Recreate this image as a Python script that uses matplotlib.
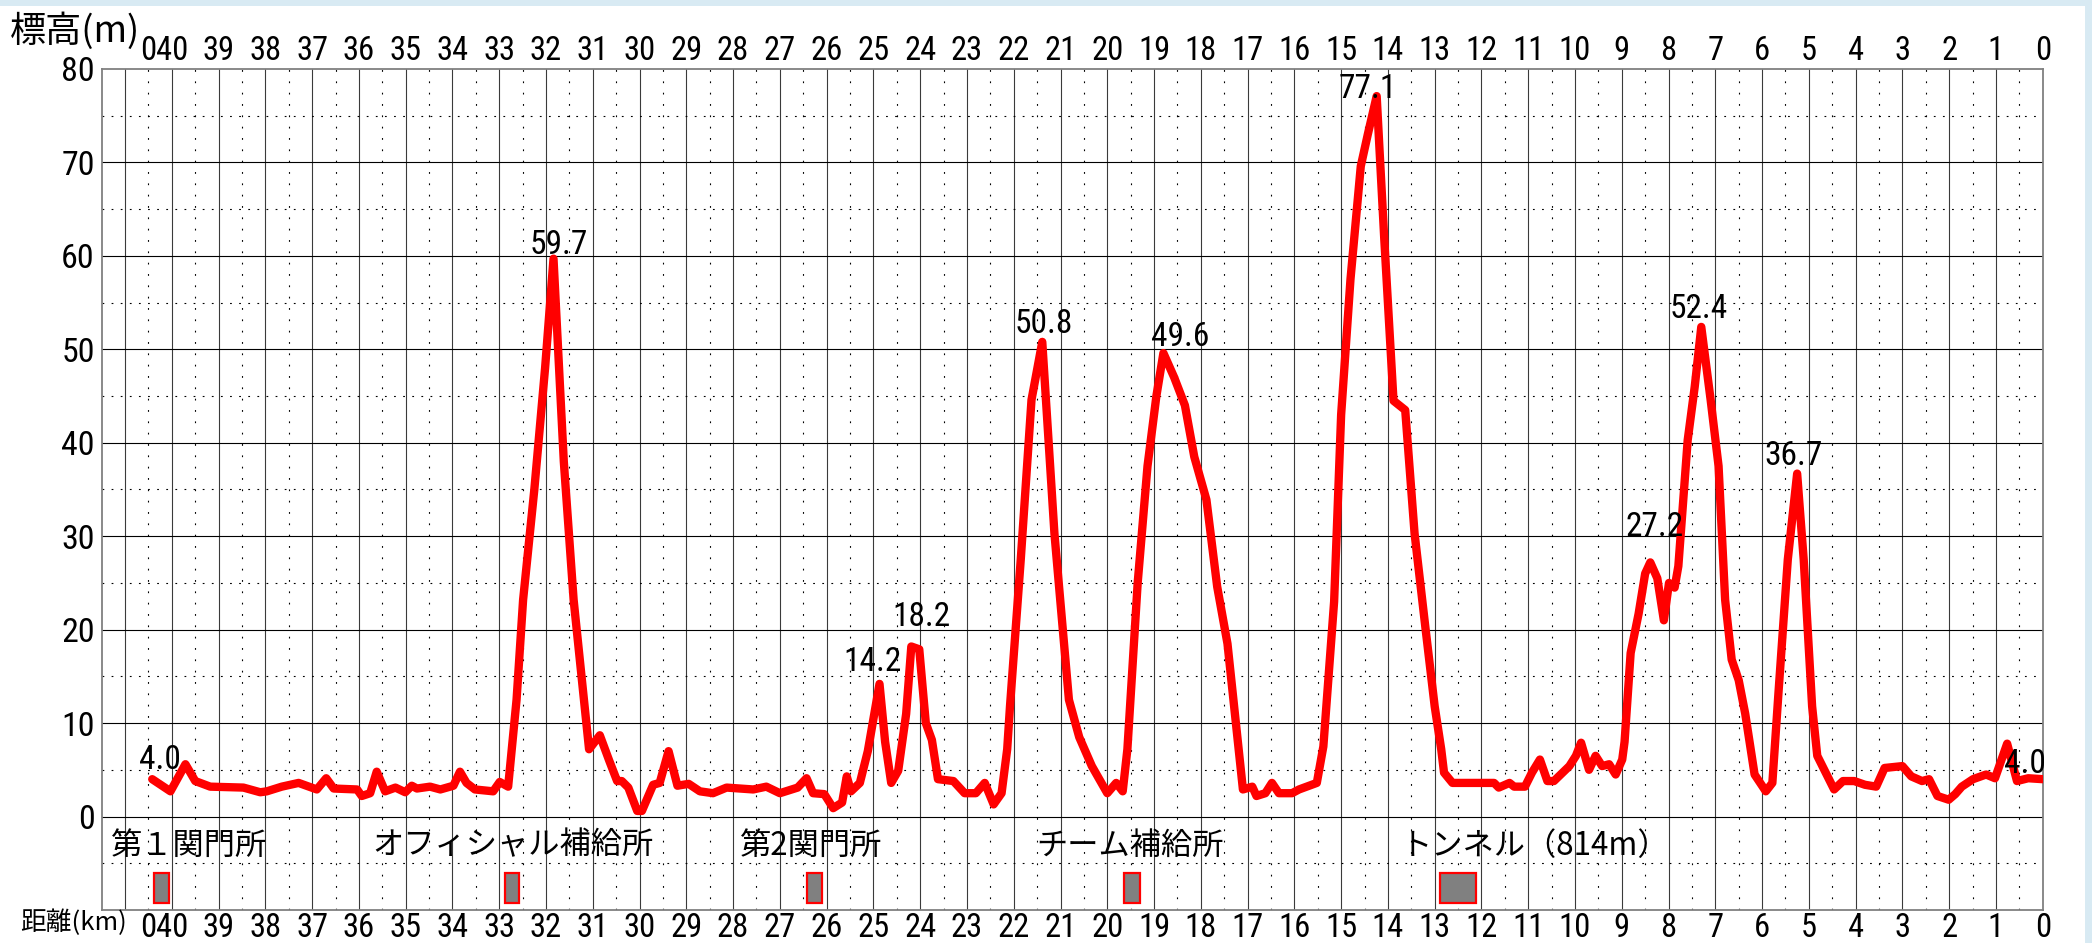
import matplotlib
matplotlib.use("Agg")
import matplotlib.pyplot as plt
from matplotlib.patches import Rectangle
from matplotlib import font_manager as fm

# ---------------- data ----------------
dist_km = [40.42, 40.03, 39.71, 39.50, 39.18, 38.47, 38.11, 37.97, 37.65, 37.29,
           36.90, 36.70, 36.54, 36.04, 35.94, 35.76, 35.62, 35.44, 35.22, 35.01,
           34.87, 34.76, 34.48, 34.26, 33.98, 33.84, 33.70, 33.52, 33.13, 32.99,
           32.81, 32.63, 32.49, 32.25, 32.02, 31.84, 31.62, 31.41, 31.08, 30.85,
           30.65, 30.48, 30.38, 30.24, 30.05, 29.95, 29.71, 29.57, 29.38, 29.19,
           28.95, 28.71, 28.43, 28.14, 27.57, 27.29, 27.00, 26.62, 26.43, 26.29,
           26.05, 25.86, 25.67, 25.57, 25.48, 25.29, 25.12, 24.98, 24.87, 24.75,
           24.62, 24.47, 24.30, 24.19, 24.02, 23.88, 23.75, 23.62, 23.29, 23.05,
           22.81, 22.62, 22.43, 22.26, 22.14, 22.08, 21.85, 21.62, 21.39, 21.13,
           20.82, 20.60, 20.33, 20.00, 19.81, 19.67, 19.57, 19.35, 19.14, 18.95,
           18.80, 18.57, 18.34, 18.14, 17.88, 17.65, 17.43, 17.19, 17.10, 16.90,
           16.81, 16.62, 16.48, 16.33, 16.05, 15.90, 15.52, 15.38, 15.15, 15.00,
           14.80, 14.58, 14.43, 14.24, 14.08, 13.88, 13.63, 13.43, 13.20, 13.00,
           12.86, 12.80, 12.62, 11.73, 11.63, 11.40, 11.30, 11.07, 10.92, 10.75,
           10.59, 10.45, 10.12, 9.98, 9.87, 9.70, 9.56, 9.42, 9.27, 9.13,
           8.99, 8.94, 8.81, 8.64, 8.50, 8.39, 8.24, 8.10, 7.99, 7.87,
           7.79, 7.59, 7.44, 7.30, 7.10, 6.93, 6.79, 6.65, 6.50, 6.36,
           6.16, 5.92, 5.78, 5.65, 5.45, 5.25, 5.11, 4.93, 4.82, 4.46,
           4.27, 4.03, 3.80, 3.56, 3.38, 3.00, 2.81, 2.58, 2.43, 2.25,
           2.01, 1.87, 1.73, 1.49, 1.21, 1.02, 0.76, 0.55, 0.31, 0.00]
elev_m = [4.0, 2.7, 5.6, 3.8, 3.2, 3.1, 2.6, 2.7, 3.2, 3.6,
          2.9, 4.1, 3.0, 2.9, 2.2, 2.5, 4.8, 2.7, 3.1, 2.6,
          3.3, 3.0, 3.2, 2.9, 3.3, 4.8, 3.6, 2.9, 2.7, 3.7,
          3.2, 12.5, 23.2, 35.0, 48.0, 59.7, 38.0, 23.2, 7.2, 8.7,
          6.0, 3.8, 3.8, 3.1, 0.6, 0.6, 3.4, 3.6, 7.0, 3.3,
          3.5, 2.7, 2.5, 3.1, 2.9, 3.2, 2.5, 3.1, 4.1, 2.5,
          2.4, 0.9, 1.5, 4.3, 2.7, 3.6, 7.0, 11.0, 14.2, 8.0,
          3.6, 4.9, 11.0, 18.2, 17.9, 10.0, 8.2, 4.0, 3.8, 2.5,
          2.5, 3.6, 1.3, 2.5, 7.2, 11.8, 27.5, 44.6, 50.8, 30.3,
          12.5, 8.5, 5.4, 2.5, 3.6, 2.7, 7.2, 25.0, 37.5, 45.0,
          49.6, 47.0, 44.0, 38.5, 33.9, 24.6, 18.5, 7.2, 2.9, 3.2,
          2.2, 2.5, 3.6, 2.5, 2.5, 2.9, 3.6, 7.5, 23.0, 43.0,
          57.5, 69.6, 73.0, 77.1, 62.0, 44.5, 43.5, 30.3, 20.3, 11.8,
          7.2, 4.7, 3.6, 3.6, 3.1, 3.6, 3.2, 3.2, 4.7, 6.1,
          3.8, 3.8, 5.4, 6.5, 7.9, 5.0, 6.5, 5.4, 5.6, 4.5,
          6.1, 8.0, 17.5, 21.7, 26.0, 27.2, 25.5, 21.0, 25.0, 24.5,
          26.8, 40.3, 46.0, 52.4, 44.6, 37.5, 23.2, 16.8, 14.6, 11.0,
          4.5, 2.7, 3.6, 13.2, 27.5, 36.7, 27.5, 11.8, 6.5, 2.9,
          3.8, 3.8, 3.4, 3.2, 5.2, 5.4, 4.3, 3.8, 4.0, 2.2,
          1.8, 2.4, 3.2, 4.0, 4.5, 4.1, 7.8, 3.8, 4.1, 4.0]

# annotated elevations
label_km = [40.42, 31.84, 24.87, 24.19, 21.39, 18.80, 14.24, 8.39, 7.30, 5.25, 0.00]
label_val = [4.0, 59.7, 14.2, 18.2, 50.8, 49.6, 77.1, 27.2, 52.4, 36.7, 4.0]

# facilities
facility_names = ["第１関門所", "オフィシャル補給所", "第2関門所", "チーム補給所", "トンネル（814m）"]
facility_label_km = [41.31, 35.71, 27.86, 21.52, 13.72]
facility_start_km = [40.38, 32.88, 26.41, 19.65, 12.88]
facility_end_km = [40.06, 32.57, 26.10, 19.31, 12.12]

# axis tick labels
xtick_pos = [40.5] + list(range(40, -1, -1))
xtick_lab = ["0"] + [str(k) for k in range(40, -1, -1)]
ytick_pos = list(range(0, 81, 10))

# ---------------- styling ----------------
label_dx = [8, 5, -7, 10, 1, 17, -9, 4, -3, -4, -18]
label_dy = [10, 5, 13, 20, 9, 7, -2, 26, 9, 9, 6]

names = {f.name for f in fm.fontManager.ttflist}
num_font = "Liberation Sans"
for cand in ["Liberation Sans Narrow", "DejaVu Sans Condensed", "Roboto Condensed",
             "Open Sans Condensed", "Liberation Sans"]:
    if cand in names:
        num_font = cand
        break
jp_font = ["Noto Sans CJK JP", "DejaVu Sans"]
plt.rcParams["font.family"] = jp_font

W, H = 2092, 943
fig = plt.figure(figsize=(W / 100, H / 100), dpi=100)
fig.patch.set_facecolor("white")
L, R, T, B = 101.7, 2042.7, 69, 910
ax = fig.add_axes([L / W, 1 - B / H, (R - L) / W, (B - T) / H])
ax.set_xlim(41.5, 0)
ax.set_ylim(-10, 80)

# background bands
blue = "#d8eaf3"
fig.patches.append(Rectangle((0, 1 - 6 / H), 1, 6 / H, transform=fig.transFigure,
                             facecolor=blue, edgecolor="none", zorder=0))
fig.patches.append(Rectangle((2085 / W, 0), 7 / W, 1, transform=fig.transFigure,
                             facecolor=blue, edgecolor="none", zorder=0))

# grid
for k in range(1, 42):
    ax.axvline(k, color="#3a3a3a", lw=0.8, zorder=1)
for k in range(0, 41):
    ax.axvline(k + 0.5, color="black", lw=0.8, dashes=(1.6, 8.6), zorder=1)
for v in range(0, 80, 10):
    ax.axhline(v, color="black", lw=0.8, zorder=1)
for v in [-5] + list(range(5, 80, 10)):
    ax.axhline(v, color="black", lw=0.8, dashes=(1.6, 6.6), zorder=1)

for s in ax.spines.values():
    s.set_color("#808080")
    s.set_linewidth(1.3)

# profile
ax.plot(dist_km, elev_m, color="#ff0000", lw=6.0, solid_joinstyle="round",
        solid_capstyle="round", zorder=5)

# labels of elevations
for km, v, dx, dy in zip(label_km, label_val, label_dx, label_dy):
    ax.annotate(f"{v:.1f}", xy=(km, v), xytext=(dx, dy), textcoords="offset pixels",
                ha="center", va="baseline", fontsize=24, family=num_font,
                color="black", zorder=6, annotation_clip=False)

# facilities
for name, lk, s0, s1 in zip(facility_names, facility_label_km, facility_start_km, facility_end_km):
    ax.text(lk, -3.1, name, ha="left", va="center", fontsize=22.5, family=jp_font, zorder=6)
    ax.add_patch(Rectangle((s1, -9.3), s0 - s1, 3.3, facecolor="#808080",
                           edgecolor="#ff0000", lw=1.6, zorder=6))

# ticks
ax.set_xticks(xtick_pos)
ax.set_xticklabels(xtick_lab)
ax.set_yticks(ytick_pos)
ax.set_yticklabels([str(v) for v in ytick_pos])
ax.tick_params(axis="x", top=True, bottom=True, labeltop=True, labelbottom=True,
               length=0, pad=1.5, labelsize=23.5)
ax.tick_params(axis="y", left=True, length=0, pad=5, labelsize=24.5)
for lab in ax.get_xticklabels() + ax.get_yticklabels():
    lab.set_family(num_font)
# top labels sit a little higher than the bottom ones
for t in ax.xaxis.get_major_ticks():
    t.set_pad(1.5)
ax.xaxis.set_tick_params(which="major", pad=1.5)
for lab in ax.xaxis.get_ticklabels(which="major"):
    pass

fig.text(10 / W, 1 - 31 / H, "標高(m)", ha="left", va="center", fontsize=26, family=jp_font)
fig.text(20 / W, 1 - 923 / H, "距離(km)", ha="left", va="center", fontsize=18.5, family=jp_font)

fig.savefig("out.png", dpi=100, facecolor="white")
